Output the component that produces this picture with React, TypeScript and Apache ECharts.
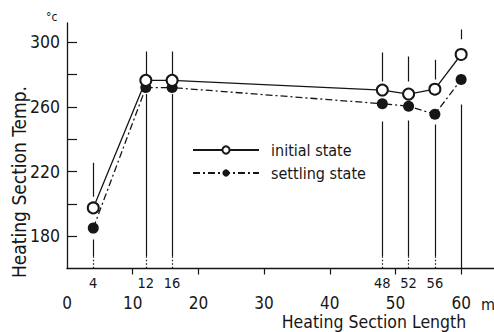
import React, { useEffect, useRef } from "react";
import * as echarts from "echarts";

// Heating section boundaries (m) and temperatures (°C)
const positions = [4, 12, 16, 48, 52, 56, 60];
const initialTemps = [197.5, 276.5, 276.5, 270.5, 268, 271, 292.5];
const settlingTemps = [185, 272, 272, 262, 260.5, 255.5, 277];

// tick labels
const xTickValues = [10, 20, 30, 40, 50, 60];
const xLabelValues = [0, 10, 20, 30, 40, 50, 60];
const boundaryLabels = [4, 12, 16, 48, 52, 56];
const yTickValues = [180, 200, 220, 240, 260, 280, 300];
const yLabelValues = [180, 220, 260, 300];

// section boundary marker lines (°C spans, broken around the data points)
const boundaryUpperTop = [225.4, 294.3, 294.3, 293.7, 291.2, 289.3, 308];
const boundaryUpperBottom = [204.4, 279.4, 279.4, 275.8, 275.8, 277, 301.9];
const boundaryLowerTop = [177.9, 268, 268, 251, 251.7, 249.2, 261.5];
const boundaryLowerBottom = [167.6, 167.6, 167.6, 167.6, 167.6, 167.6, 160];
const dottedBottom = 160;

const INK = "#161616";
const FONT = '"DejaVu Sans Condensed", "DejaVu Sans", sans-serif';

export default function App() {
  const ref = useRef<HTMLDivElement>(null);

  useEffect(() => {
    if (!ref.current) return;
    const chart = echarts.init(ref.current, null, { renderer: "svg" });

    const solidSegments: any[] = [];
    const dottedSegments: any[] = [];
    positions.forEach((x, i) => {
      solidSegments.push({ coords: [[x, boundaryUpperTop[i]], [x, boundaryUpperBottom[i]]] });
      solidSegments.push({ coords: [[x, boundaryLowerTop[i]], [x, boundaryLowerBottom[i]]] });
      if (boundaryLowerBottom[i] > dottedBottom) {
        dottedSegments.push({ coords: [[x, boundaryLowerBottom[i]], [x, dottedBottom]] });
      }
    });

    const option: any = {
      animation: false,
      backgroundColor: "#ffffff",
      grid: { left: 67, right: 0, top: 23, bottom: 63.5, containLabel: false },
      legend: {
        orient: "vertical",
        left: 187,
        top: 137,
        itemWidth: 66,
        itemHeight: 9,
        itemGap: 7,
        data: ["initial state", "settling state"],
        textStyle: { fontSize: 16, fontFamily: FONT, color: INK, padding: [0, 0, 0, 7] },
      },
      xAxis: [
        {
          type: "value",
          min: 0,
          max: 65,
          position: "bottom",
          axisLine: { show: true, lineStyle: { color: INK, width: 1.3 } },
          axisTick: { show: true, inside: false, length: 6, customValues: xTickValues, lineStyle: { color: INK, width: 1.2 } },
          axisLabel: { customValues: xLabelValues, margin: 26, fontSize: 17, fontFamily: FONT, color: INK },
          splitLine: { show: false },
        },
        {
          type: "value",
          min: 0,
          max: 65,
          position: "bottom",
          axisLine: { show: false },
          axisTick: { show: false },
          axisLabel: { customValues: boundaryLabels, margin: 7, fontSize: 14.5, fontFamily: FONT, color: INK },
          splitLine: { show: false },
        },
      ],
      yAxis: {
        type: "value",
        min: 160,
        max: 312,
        axisLine: { show: true, lineStyle: { color: INK, width: 1.3 } },
        axisTick: { show: true, inside: true, length: 10, customValues: yTickValues, lineStyle: { color: INK, width: 1.2 } },
        axisLabel: { customValues: yLabelValues, margin: 7, fontSize: 17.5, fontFamily: FONT, color: INK },
        splitLine: { show: false },
      },
      graphic: [
        { type: "text", x: 46, y: 17, style: { text: "°c", fontSize: 12, fontFamily: FONT, fill: INK, verticalAlign: "middle" } },
        {
          type: "text",
          x: 19,
          y: 182,
          rotation: Math.PI / 2,
          style: { text: "Heating Section Temp.", fontSize: 19, fontFamily: FONT, fill: INK, align: "center", verticalAlign: "middle" },
        },
        { type: "text", x: 374, y: 322, style: { text: "Heating Section Length", fontSize: 17.5, fontFamily: FONT, fill: INK, align: "center", verticalAlign: "middle" } },
        { type: "text", x: 481, y: 304, style: { text: "m", fontSize: 16, fontFamily: FONT, fill: INK, verticalAlign: "middle" } },
      ],
      series: [
        {
          type: "lines",
          coordinateSystem: "cartesian2d",
          xAxisIndex: 0,
          yAxisIndex: 0,
          silent: true,
          lineStyle: { color: INK, width: 1.2, opacity: 1 },
          data: solidSegments,
          z: 1,
        },
        {
          type: "lines",
          coordinateSystem: "cartesian2d",
          xAxisIndex: 0,
          yAxisIndex: 0,
          silent: true,
          lineStyle: { color: INK, width: 1.2, opacity: 1, type: [1.5, 2] },
          data: dottedSegments,
          z: 1,
        },
        {
          name: "settling state",
          type: "line",
          xAxisIndex: 0,
          data: positions.map((x, i) => [x, settlingTemps[i]]),
          symbol: "circle",
          symbolSize: 11,
          itemStyle: { color: INK },
          lineStyle: { color: INK, width: 1.3, type: [7, 3, 2, 3] },
          z: 2,
        },
        {
          name: "initial state",
          type: "line",
          xAxisIndex: 0,
          data: positions.map((x, i) => [x, initialTemps[i]]),
          symbol: "emptyCircle",
          symbolSize: 11,
          itemStyle: { color: INK, borderColor: INK, borderWidth: 1.3 },
          lineStyle: { color: INK, width: 1.3 },
          z: 3,
        },
      ],
    };

    chart.setOption(option);
    return () => chart.dispose();
  }, []);

  return (
    <div
      ref={ref}
      style={{ position: "fixed", left: 0, top: 0, width: 494, height: 332, background: "#fff" }}
    />
  );
}
